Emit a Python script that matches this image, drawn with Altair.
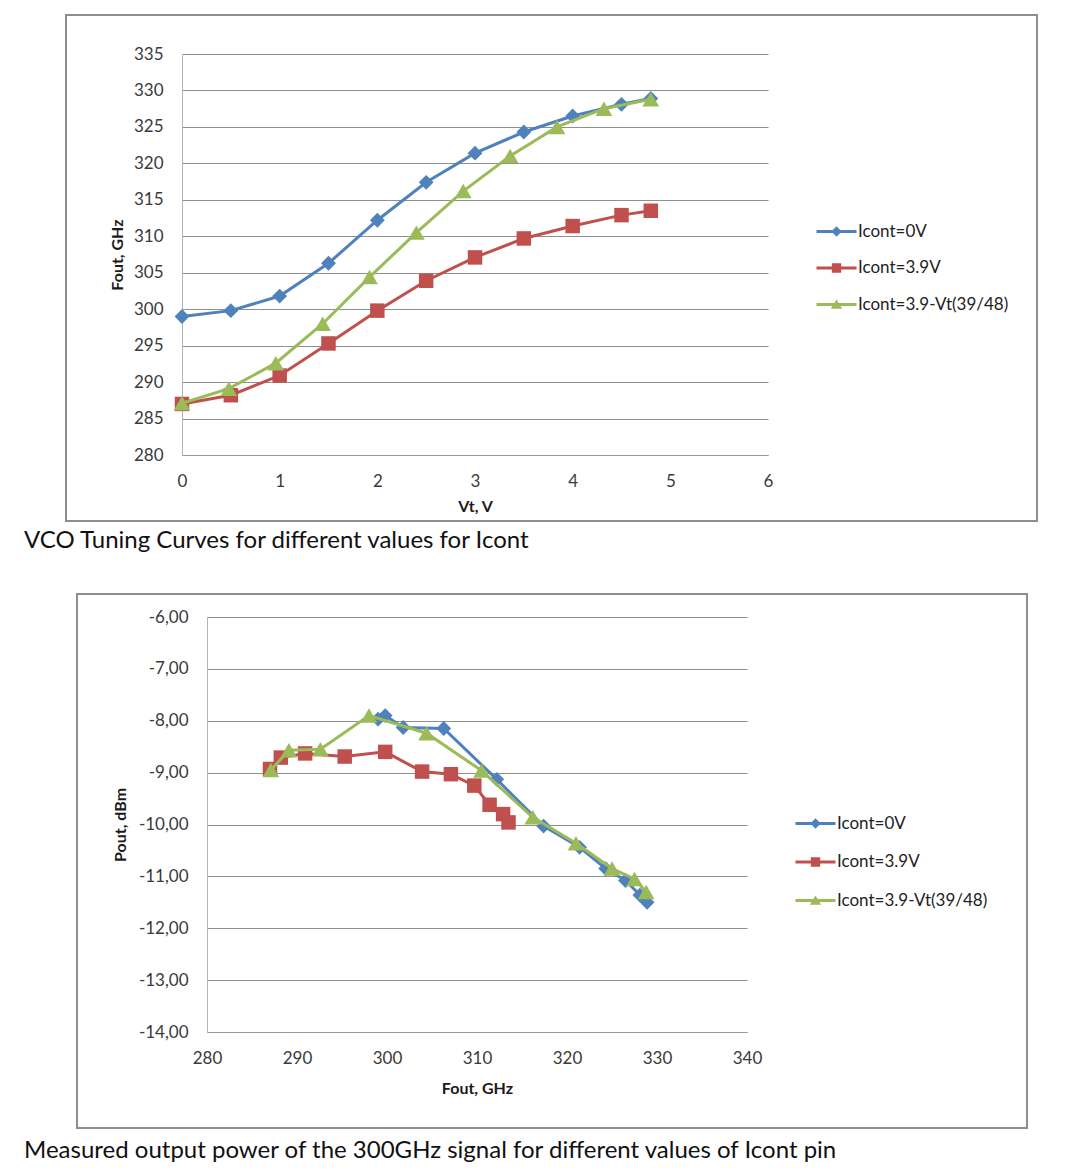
import altair as alt
import pandas as pd

# ---------------- data ----------------
series_names = ["Icont=0V", "Icont=3.9V", "Icont=3.9-Vt(39/48)"]
series_colors = ["#4F81BD", "#C0504D", "#9BBB59"]
marker_shapes = ["diamond", "square", "triangle-up"]
marker_sizes = [220, 210, 280]

# tuning voltage (V)
vt_fixed = [0.0, 0.5, 1.0, 1.5, 2.0, 2.5, 3.0, 3.5, 4.0, 4.5, 4.8]
vt_track = [0.0, 0.48, 0.96, 1.44, 1.92, 2.4, 2.88, 3.36, 3.84, 4.32, 4.8]

# output frequency (GHz)
fout_0v = [299.0, 299.8, 301.8, 306.3, 312.2, 317.4, 321.4, 324.3, 326.5, 328.1, 328.9]
fout_39v = [287.0, 288.2, 290.9, 295.3, 299.8, 303.9, 307.1, 309.7, 311.4, 312.9, 313.5]
fout_track = [287.1, 289.1, 292.6, 298.0, 304.4, 310.5, 316.2, 321.0, 325.0, 327.5, 328.8]

# output power (dBm)
pout_0v = [-7.97, -7.9, -8.13, -8.15, -9.13, -10.03, -10.44, -10.85, -11.08, -11.36, -11.5]
pout_39v = [-8.93, -8.71, -8.63, -8.69, -8.6, -8.98, -9.03, -9.25, -9.62, -9.8, -9.96]
pout_track = [-8.95, -8.57, -8.55, -7.9, -8.24, -8.96, -9.86, -10.36, -10.85, -11.05, -11.3]

tuning_xticks = [0, 1, 2, 3, 4, 5, 6]
tuning_yticks = [280, 285, 290, 295, 300, 305, 310, 315, 320, 325, 330, 335]
power_xticks = [280, 290, 300, 310, 320, 330, 340]
power_yticks = [-14, -13, -12, -11, -10, -9, -8, -7, -6]

caption_top = "VCO Tuning Curves for different values for Icont"
caption_bottom = "Measured output power of the 300GHz signal for different values of Icont pin"

# legend symbols: a line segment with a small marker (custom SVG paths)
LEG_LINE = "M-3,-0.21H3V0.21H-3Z"
legend_paths = [
    LEG_LINE + "M0,-0.78L0.78,0L0,0.78L-0.78,0Z",
    LEG_LINE + "M-0.7,-0.7H0.7V0.7H-0.7Z",
    LEG_LINE + "M0,-0.75L0.85,0.64L-0.85,0.64Z",
]

# ---------------- tables ----------------
rows_t, rows_p = [], []
for name, vts, fs, ps in zip(series_names,
                             [vt_fixed, vt_fixed, vt_track],
                             [fout_0v, fout_39v, fout_track],
                             [pout_0v, pout_39v, pout_track]):
    for i, (v, f, p) in enumerate(zip(vts, fs, ps)):
        rows_t.append({"series": name, "idx": i, "vt": v, "fout": f})
        rows_p.append({"series": name, "idx": i, "fout": f, "pout": p})
tuning = pd.DataFrame(rows_t)
power = pd.DataFrame(rows_p)

FONT = "Lato"
LABEL_COLOR = "#3a3a3a"


def panel(df, xf, yf, xdom, ydom, xticks, yticks, xtitle, ytitle, w, h,
          ylabel_expr, ytitle_pad, xtitle_pad, leg_x, leg_y, leg_rowpad,
          box, cap_xy, caption, x_range=None, y_offset=0):
    xscale_kw = dict(domain=xdom, nice=False, zero=False)
    if x_range is not None:
        xscale_kw["range"] = x_range
    x_enc = alt.X(f"{xf}:Q", scale=alt.Scale(**xscale_kw),
                  axis=alt.Axis(values=xticks, title=xtitle, grid=False, ticks=False,
                                domainColor="#9a9a9a", domainWidth=1,
                                labelFont=FONT, labelFontSize=17, labelColor=LABEL_COLOR,
                                labelPadding=18, labelFlush=False, labelOverlap=False,
                                titleFont=FONT, titleFontSize=16, titleFontWeight="bold",
                                titleColor="#1a1a1a", titlePadding=xtitle_pad))
    y_axis_kw = dict(values=yticks, title=ytitle, grid=True, gridColor="#8f8f8f", gridWidth=1,
                     ticks=False, domainColor="#b3b3b3", domainWidth=1,
                     labelFont=FONT, labelFontSize=17, labelColor=LABEL_COLOR,
                     labelPadding=19, labelFlush=False, labelOverlap=False,
                     titleFont=FONT, titleFontSize=16, titleFontWeight="bold",
                     titleColor="#1a1a1a", titlePadding=ytitle_pad, offset=y_offset)
    if ylabel_expr:
        y_axis_kw["labelExpr"] = ylabel_expr
    y_enc = alt.Y(f"{yf}:Q", scale=alt.Scale(domain=ydom, nice=False, zero=False),
                  axis=alt.Axis(**y_axis_kw))

    one = alt.Data(values=[{"k": 1}])
    x0, x1, y0, y1 = box
    box_layer = alt.Chart(one).mark_rect(fillOpacity=0, stroke="#8e8e8e", strokeWidth=2).encode(
        x=alt.value(x0), x2=alt.value(x1), y=alt.value(y0), y2=alt.value(y1))
    cap_layer = alt.Chart(one).mark_text(align="left", baseline="middle", font=FONT,
                                         fontSize=24, color="#111111").encode(
        x=alt.value(cap_xy[0]), y=alt.value(cap_xy[1]), text=alt.value(caption))

    layers = [box_layer, cap_layer]
    for name, col, shp, sz in zip(series_names, series_colors, marker_shapes, marker_sizes):
        base = alt.Chart(df).transform_filter(alt.datum.series == name)
        layers.append(base.mark_line(color=col, strokeWidth=3).encode(
            x=x_enc, y=y_enc, order="idx:Q"))
        layers.append(base.mark_point(filled=True, shape=shp, size=sz, color=col,
                                      opacity=1, strokeWidth=0).encode(x=x_enc, y=y_enc))

    leg = dict(title=None, orient="none", legendX=leg_x, legendY=leg_y, padding=0,
               symbolSize=178, symbolStrokeWidth=0, labelFont=FONT, labelFontSize=17,
               labelColor="#222222", labelOffset=13, labelLimit=400, rowPadding=leg_rowpad)
    legend_layer = alt.Chart(df).transform_filter("false").mark_point(
        filled=True, opacity=1, strokeWidth=0).encode(
        x=x_enc, y=y_enc,
        color=alt.Color("series:N", scale=alt.Scale(domain=series_names, range=series_colors),
                        legend=alt.Legend(**leg)),
        shape=alt.Shape("series:N", scale=alt.Scale(domain=series_names, range=legend_paths),
                        legend=alt.Legend(**leg)),
    )
    layers.append(legend_layer)
    return alt.layer(*layers).properties(width=w, height=h)


top = panel(tuning, "vt", "fout", [0, 6], [280, 335], tuning_xticks, tuning_yticks,
            "Vt, V", "Fout, GHz", 586, 401, None, 8, 9,
            646, 169, 18.5,
            (-116, 855, -39, 467), (-158, 487), caption_top)

# bottom panel shares the same left origin; its plot area starts 25 px further right
power_label = "(datum.value < 0 ? '-' : '') + replace(format(abs(datum.value), '.2f'), '.', ',')"
bottom = panel(power, "fout", "pout", [280, 340], [-14, -6], power_xticks, power_yticks,
               "Fout, GHz", "Pout, dBm", 565, 415, power_label, 10, 14,
               625, 198, 20.5,
               (-105, 845, -23, 511), (-158, 534), caption_bottom,
               x_range=[25, 565], y_offset=-25)

chart = alt.vconcat(top, bottom, spacing=40).resolve_scale(
    color="independent", shape="independent"
).resolve_legend(
    color="independent", shape="independent"
).properties(
    padding={"left": 16, "top": 6, "right": 5, "bottom": 5}
).configure_view(strokeWidth=0)

chart.save("out.html", embed_options={"renderer": "svg", "actions": False})
